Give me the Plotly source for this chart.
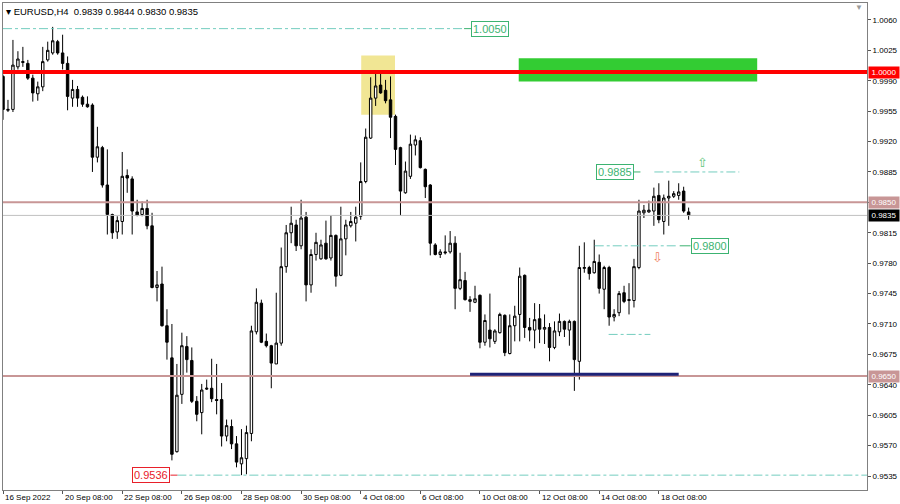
import plotly.graph_objects as go

# ---------------- data ----------------
opens = [0.9995,0.9956,0.9957,1.0006,1.0011,1.0010,0.9993,0.9975,0.9983,1.0014,
         1.0022,1.0035,1.0022,1.0010,0.9970,0.9980,0.9971,0.9963,0.9962,0.9902,
         0.9913,0.9870,0.9836,0.9816,0.9828,0.9881,0.9877,0.9839,0.9836,0.9843,
         0.9823,0.9752,0.9756,0.9708,0.9671,0.9563,0.9629,0.9684,0.9668,0.9621,
         0.9608,0.9635,0.9636,0.9623,0.9623,0.9581,0.9592,0.9572,0.9549,0.9555,
         0.9584,0.9701,0.9734,0.9690,0.9685,0.9664,0.9688,0.9776,0.9815,0.9824,
         0.9800,0.9833,0.9755,0.9790,0.9785,0.9803,0.9786,0.9812,0.9766,0.9808,
         0.9823,0.9826,0.9834,0.9874,0.9924,0.9970,0.9985,0.9979,0.9968,0.9949,
         0.9913,0.9861,0.9880,0.9916,0.9921,0.9888,0.9870,0.9801,0.9790,0.9793,
         0.9793,0.9803,0.9751,0.9760,0.9736,0.9735,0.9743,0.9689,0.9703,0.9690,
         0.9700,0.9720,0.9676,0.9708,0.9721,0.9766,0.9706,0.9703,0.9716,0.9704,
         0.9706,0.9683,0.9701,0.9713,0.9703,0.9713,0.9667,0.9774,0.9775,0.9769,
         0.9781,0.9750,0.9775,0.9718,0.9723,0.9746,0.9737,0.9737,0.9775,0.9838,
         0.9839,0.9840,0.9858,0.9828,0.9855,0.9857,0.9858,0.9863,0.9839]
highs = [0.9997,0.9968,1.0037,1.0024,1.0029,1.0014,0.9997,0.9989,1.0029,1.0035,
         1.0052,1.0037,1.0043,1.0018,0.9991,0.9984,0.9973,0.9972,0.9964,0.9937,
         0.9915,0.9911,0.9837,0.9834,0.9908,0.9888,0.9880,0.9853,0.9851,0.9853,
         0.9838,0.9771,0.9776,0.9727,0.9710,0.9664,0.9700,0.9696,0.9683,0.9627,
         0.9641,0.9646,0.9670,0.9664,0.9642,0.9600,0.9600,0.9581,0.9589,0.9593,
         0.9708,0.9751,0.9738,0.9699,0.9686,0.9746,0.9798,0.9824,0.9845,0.9830,
         0.9853,0.9839,0.9796,0.9815,0.9807,0.9829,0.9835,0.9813,0.9845,0.9830,
         0.9839,0.9845,0.9896,0.9935,0.9994,0.9998,0.9999,0.9991,0.9995,0.9951,
         0.9914,0.9897,0.9928,0.9927,0.9925,0.9889,0.9871,0.9803,0.9796,0.9812,
         0.9817,0.9811,0.9792,0.9770,0.9742,0.9754,0.9744,0.9721,0.9745,0.9704,
         0.9723,0.9721,0.9721,0.9731,0.9775,0.9767,0.9717,0.9734,0.9733,0.9721,
         0.9711,0.9713,0.9722,0.9714,0.9715,0.9714,0.9800,0.9804,0.9777,0.9807,
         0.9790,0.9777,0.9777,0.9727,0.9748,0.9754,0.9757,0.9785,0.9853,0.9847,
         0.9852,0.9867,0.9872,0.9859,0.9875,0.9863,0.9872,0.9868,0.9844]
lows = [0.9945,0.9954,0.9954,1.0003,1.0006,0.9991,0.9966,0.9967,0.9978,1.0012,
        1.0020,1.0020,1.0003,0.9956,0.9960,0.9960,0.9960,0.9959,0.9885,0.9896,
        0.9867,0.9813,0.9808,0.9808,0.9813,0.9861,0.9813,0.9834,0.9834,0.9819,
        0.9751,0.9736,0.9707,0.9669,0.9553,0.9562,0.9618,0.9654,0.9619,0.9598,
        0.9583,0.9634,0.9620,0.9606,0.9569,0.9575,0.9566,0.9545,0.9536,0.9537,
        0.9575,0.9698,0.9688,0.9683,0.9636,0.9664,0.9685,0.9769,0.9803,0.9794,
        0.9796,0.9736,0.9746,0.9783,0.9784,0.9784,0.9783,0.9753,0.9765,0.9789,
        0.9821,0.9805,0.9830,0.9872,0.9923,0.9961,0.9975,0.9964,0.9924,0.9893,
        0.9835,0.9860,0.9877,0.9904,0.9889,0.9855,0.9789,0.9789,0.9786,0.9790,
        0.9791,0.9727,0.9749,0.9737,0.9724,0.9734,0.9682,0.9685,0.9683,0.9687,
        0.9699,0.9673,0.9675,0.9690,0.9690,0.9694,0.9690,0.9682,0.9688,0.9687,
        0.9667,0.9681,0.9696,0.9695,0.9685,0.9633,0.9646,0.9769,0.9761,0.9768,
        0.9745,0.9727,0.9708,0.9713,0.9719,0.9734,0.9721,0.9729,0.9773,0.9832,
        0.9838,0.9823,0.9826,0.9813,0.9823,0.9855,0.9853,0.9838,0.9830]
closes = [0.9957,0.9957,1.0008,1.0015,1.0012,0.9993,0.9976,0.9983,1.0012,1.0025,
          1.0036,1.0022,1.0010,0.9972,0.9980,0.9970,0.9963,0.9960,0.9902,0.9914,
          0.9870,0.9836,0.9815,0.9829,0.9880,0.9878,0.9840,0.9835,0.9843,0.9823,
          0.9752,0.9755,0.9708,0.9689,0.9560,0.9628,0.9685,0.9669,0.9621,0.9606,
          0.9634,0.9636,0.9624,0.9622,0.9581,0.9593,0.9572,0.9551,0.9556,0.9585,
          0.9702,0.9735,0.9689,0.9685,0.9665,0.9688,0.9776,0.9815,0.9826,0.9800,
          0.9832,0.9755,0.9790,0.9804,0.9801,0.9785,0.9812,0.9765,0.9808,0.9824,
          0.9828,0.9833,0.9874,0.9925,0.9970,0.9984,0.9976,0.9967,0.9948,0.9911,
          0.9863,0.9886,0.9917,0.9922,0.9890,0.9868,0.9803,0.9790,0.9793,0.9792,
          0.9803,0.9751,0.9761,0.9738,0.9738,0.9739,0.9689,0.9714,0.9693,0.9702,
          0.9721,0.9677,0.9708,0.9719,0.9765,0.9706,0.9703,0.9715,0.9704,0.9706,
          0.9683,0.9702,0.9713,0.9704,0.9713,0.9669,0.9775,0.9775,0.9768,0.9782,
          0.9751,0.9775,0.9718,0.9721,0.9745,0.9736,0.9738,0.9776,0.9840,0.9841,
          0.9841,0.9857,0.9830,0.9855,0.9857,0.9860,0.9862,0.9840,0.9835]
bar_index = list(range(len(opens)))

date_ticks = [0, 12, 24, 36, 48, 60, 72, 84, 96, 108, 120, 132]
date_labels = ["16 Sep 2022", "20 Sep 08:00", "22 Sep 08:00", "26 Sep 08:00",
               "28 Sep 08:00", "30 Sep 08:00", "4 Oct 08:00", "6 Oct 08:00",
               "10 Oct 08:00", "12 Oct 08:00", "14 Oct 08:00", "18 Oct 08:00"]
price_ticks = [1.0060, 1.0025, 0.9990, 0.9955, 0.9920, 0.9885, 0.9850, 0.9815,
               0.9780, 0.9745, 0.9710, 0.9675, 0.9640, 0.9605, 0.9570, 0.9535]

resistance = 1.0000
level_upper = 0.9850
level_lower = 0.9650
bid = 0.9835
target_top = 1.0050
target_up = 0.9885
target_down = 0.9800
target_mid = 0.9698
low_mark = 0.9536
blue_level = 0.9652
title_text = "EURUSD,H4\u00a0\u00a00.9839 0.9844 0.9830 0.9835"

FONT = "Liberation Sans"
TEAL = "#74CDBF"
GREEN_TXT = "#3CB371"

fig = go.Figure()
fig.add_trace(go.Candlestick(
    x=bar_index, open=opens, high=highs, low=lows, close=closes,
    increasing=dict(line=dict(color="black", width=1), fillcolor="white"),
    decreasing=dict(line=dict(color="black", width=1), fillcolor="black"),
    whiskerwidth=0, showlegend=False, hoverinfo="skip"))

shapes = []
# yellow highlight box
shapes.append(dict(type="rect", xref="x", yref="y", x0=72.1, x1=78.9, y0=0.9951, y1=1.0019,
                   fillcolor="#F1E694", line=dict(width=0), layer="below"))
# green target zone
shapes.append(dict(type="rect", xref="x", yref="y", x0=103.8, x1=151.8, y0=0.9989, y1=1.0016,
                   fillcolor="#33CC33", line=dict(width=0), layer="above"))
# horizontal levels
for yv, col, w in [(level_upper, "#C89696", 2), (level_lower, "#C89696", 2),
                   (bid, "#C0C0C0", 1), (resistance, "#FF0000", 4)]:
    shapes.append(dict(type="line", xref="paper", yref="y", x0=0, x1=1, y0=yv, y1=yv,
                       line=dict(color=col, width=w)))
# navy support segment
shapes.append(dict(type="line", xref="x", yref="y", x0=94, x1=136, y0=blue_level, y1=blue_level,
                   line=dict(color="#1E2378", width=3)))
# dash-dot target lines
for x0, x1, yv in [(0, 92.6, target_top), (131.1, 148.2, target_up), (119.1, 135.7, target_down),
                   (121.9, 130.3, target_mid), (35.1, 173.9, low_mark)]:
    shapes.append(dict(type="line", xref="x", yref="y", x0=x0, x1=x1, y0=yv, y1=yv,
                       line=dict(color=TEAL, width=1, dash="dashdot")))
# little connectors
for x0, x1, yv, col in [(92.8, 94.2, target_top, GREEN_TXT), (127.0, 128.3, target_up, GREEN_TXT),
                        (136.2, 138.4, target_down, GREEN_TXT), (33.7, 35.1, low_mark, "#E8202A")]:
    shapes.append(dict(type="line", xref="x", yref="y", x0=x0, x1=x1, y0=yv, y1=yv,
                       line=dict(color=col, width=1)))

ann = []
# title
ann.append(dict(xref="paper", yref="paper", x=0, y=1, xanchor="left", yanchor="top",
                xshift=1, yshift=-1, text="\u25BE " + title_text, showarrow=False,
                font=dict(family=FONT, size=9.5, color="black")))
ann.append(dict(xref="paper", yref="paper", x=1, y=1, xanchor="right", yanchor="top",
                xshift=-2, yshift=2, text="\u25BC", showarrow=False,
                font=dict(family=FONT, size=8, color="#9A9A9A")))
# date labels
for t, lab in zip(date_ticks, date_labels):
    ann.append(dict(xref="x", yref="paper", x=t, y=0, xanchor="left", yanchor="top",
                    yshift=-1, text=lab, showarrow=False,
                    font=dict(family=FONT, size=8, color="black")))
# price boxes on the axis
for yv, bg in [(resistance, "#FF0000"), (level_upper, "#C89696"), (bid, "#000000"),
               (level_lower, "#C89696")]:
    ann.append(dict(xref="paper", yref="y", x=1, y=yv, xanchor="left", yanchor="middle",
                    xshift=1, text=f"{yv:.4f}", showarrow=False, bgcolor=bg, width=30, height=11,
                    borderpad=0, font=dict(family=FONT, size=8, color="white")))
# in-chart label boxes
for xv, yv, anchor, col in [(94.2, target_top, "left", GREEN_TXT), (127.0, target_up, "right", GREEN_TXT),
                            (138.4, target_down, "left", GREEN_TXT), (33.7, low_mark, "right", "#E8202A")]:
    ann.append(dict(xref="x", yref="y", x=xv, y=yv, xanchor=anchor, yanchor="middle",
                    text=f"{yv:.4f}", showarrow=False, bgcolor="white", bordercolor=col,
                    borderwidth=1, borderpad=1, font=dict(family=FONT, size=11, color=col)))
# arrows
ann.append(dict(xref="x", yref="y", x=140.8, y=0.9896, text="\u21E7", showarrow=False,
                font=dict(family="DejaVu Sans", size=13, color="#5DC67A")))
ann.append(dict(xref="x", yref="y", x=131.7, y=0.9787, text="\u21E9", showarrow=False,
                font=dict(family="DejaVu Sans", size=13, color="#F08060")))

fig.update_layout(
    width=900, height=504,
    margin=dict(l=2, r=32, t=2, b=14),
    paper_bgcolor="white", plot_bgcolor="white",
    shapes=shapes, annotations=ann,
    showlegend=False,
    xaxis=dict(range=[0, 173.9], tickvals=date_ticks, ticktext=[""] * len(date_ticks),
               ticks="outside", ticklen=3, tickcolor="#555555",
               showgrid=False, zeroline=False, showline=True, linecolor="#808080",
               mirror=True, rangeslider=dict(visible=False), fixedrange=True),
    yaxis=dict(range=[0.95189, 1.00795], side="right", tickvals=price_ticks,
               ticktext=[f"{v:.4f}" for v in price_ticks],
               ticks="outside", ticklen=3, tickcolor="#555555",
               tickfont=dict(family=FONT, size=8, color="black"),
               showgrid=False, zeroline=False, showline=True, linecolor="#808080",
               mirror=True, fixedrange=True),
)

fig.write_html("out.html", config={"displayModeBar": False},
               post_script="document.body.style.margin='0';document.body.style.padding='0';")
